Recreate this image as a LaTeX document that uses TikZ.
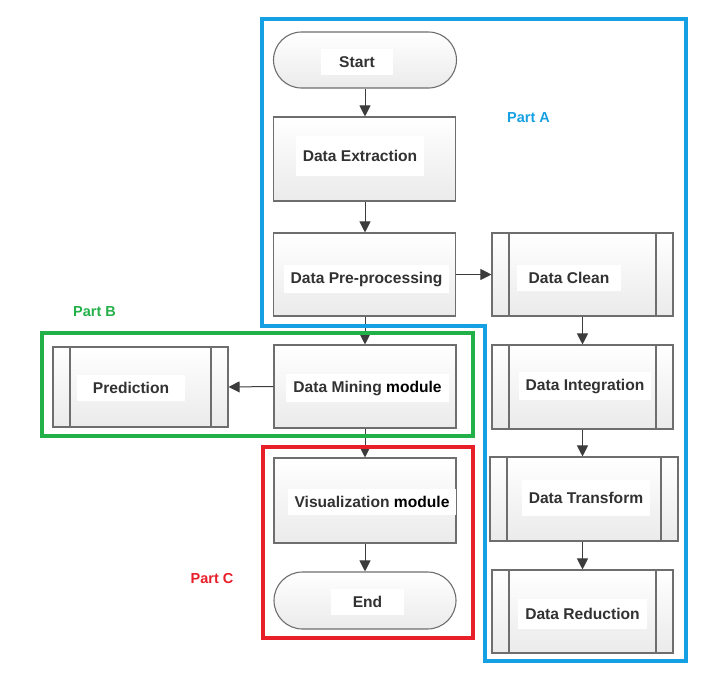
\documentclass[tikz,border=0pt]{standalone}
\usepackage{fontspec}
\setmainfont{Liberation Sans}
\usetikzlibrary{arrows.meta,shapes.misc}
\definecolor{partA}{RGB}{22,160,228}
\definecolor{partB}{RGB}{34,176,72}
\definecolor{partC}{RGB}{232,30,40}
\definecolor{boxline}{RGB}{110,110,110}
\definecolor{txt}{RGB}{50,50,50}
\definecolor{arr}{RGB}{60,60,60}
\begin{document}
\begin{tikzpicture}[x=1pt,y=-1pt,
  box/.style={draw=boxline, line width=1.1pt, top color=white, bottom color=gray!16, inner sep=0pt},
  term/.style={box, rounded rectangle},
  proc/.style={box, path picture={
      \draw[boxline,line width=1.1pt] ([xshift=17pt]path picture bounding box.north west) -- ([xshift=17pt]path picture bounding box.south west);
      \draw[boxline,line width=1.1pt] ([xshift=-17pt]path picture bounding box.north east) -- ([xshift=-17pt]path picture bounding box.south east);}},
  lbl/.style={font=\fontsize{15.6}{18}\selectfont\bfseries, text=txt, fill=white, inner xsep=7pt, inner ysep=7pt},
  part/.style={font=\fontsize{14.5}{17}\selectfont\bfseries},
  flow/.style={draw=arr, line width=1pt, -{Triangle[length=11pt,width=11pt]}},
  frame/.style={line width=4pt}
]
\useasboundingbox (0,0) rectangle (721,673);

% nodes
\node[term, minimum width=183pt, minimum height=56pt] (start) at (365,60) {};
\node[box, minimum width=182pt, minimum height=84pt] (ext) at (364.5,159) {};
\node[box, minimum width=182pt, minimum height=83pt] (pre) at (364.5,274.5) {};
\node[proc, minimum width=181pt, minimum height=83pt] (clean) at (582.5,274.5) {};
\node[box, minimum width=182pt, minimum height=83pt] (mine) at (365,386.5) {};
\node[proc, minimum width=175pt, minimum height=80pt] (pred) at (140.5,387) {};
\node[box, minimum width=182pt, minimum height=85pt] (vis) at (365,500.5) {};
\node[term, minimum width=182pt, minimum height=57pt] (end) at (365,600.5) {};
\node[proc, minimum width=181pt, minimum height=84pt] (integ) at (582.5,387) {};
\node[proc, minimum width=188pt, minimum height=84pt] (trans) at (584,499) {};
\node[proc, minimum width=181pt, minimum height=83pt] (red) at (582.5,611.5) {};

% labels
\node[lbl, inner xsep=18pt] (tstart) at (357,62) {Start};
\node[lbl, inner ysep=14pt] (text) at (360,156) {Data Extraction};
\node[lbl] (tpre) at (366.5,279) {Data Pre-processing};
\node[lbl, inner xsep=12pt] (tclean) at (569,278) {Data Clean};
\node[lbl] (tmine) at (367.5,388) {Data Mining \textcolor{black}{module}};
\node[lbl, inner xsep=16pt] (tpred) at (131,388) {Prediction};
\node[lbl] (tvis) at (372,502) {Visualization \textcolor{black}{module}};
\node[lbl, inner xsep=22pt] (tend) at (367.5,602) {End};
\node[lbl] (tinteg) at (585,386) {Data Integration};
\node[lbl, inner ysep=12pt] (ttrans) at (586,498) {Data Transform};
\node[lbl, inner ysep=9pt] (tred) at (582.5,614) {Data Reduction};

% connectors
\draw[flow] (start.south) -- (start.south |- ext.north);
\draw[flow] (ext.south -| start.south) -- (start.south |- pre.north);
\draw[flow] (pre.south -| start.south) -- (mine.north);
\draw[flow] (mine.south) -- (vis.north);
\draw[flow] (vis.south) -- (end.north);
\draw[flow] (pre.east) -- (clean.west);
\draw[flow] (mine.west) -- (pred.east);
\draw[flow] (clean.south) -- (integ.north);
\draw[flow] (integ.south) -- (integ.south |- trans.north);
\draw[flow] (trans.south -| red.north) -- (red.north);

% frames
\draw[frame, draw=partA] (262,19) -- (686,19) -- (686,661) -- (485,661) -- (485,326) -- (262,326) -- cycle;
\draw[frame, draw=partB] (42,333) rectangle (473,436);
\draw[frame, draw=partC] (263,447) rectangle (473,638);

\node[part, text=partA] (pa) at (528.5,118) {Part A};
\node[part, text=partB] (pb) at (94.5,312) {Part B};
\node[part, text=partC] (pc) at (212,578) {Part C};
\end{tikzpicture}
\end{document}
